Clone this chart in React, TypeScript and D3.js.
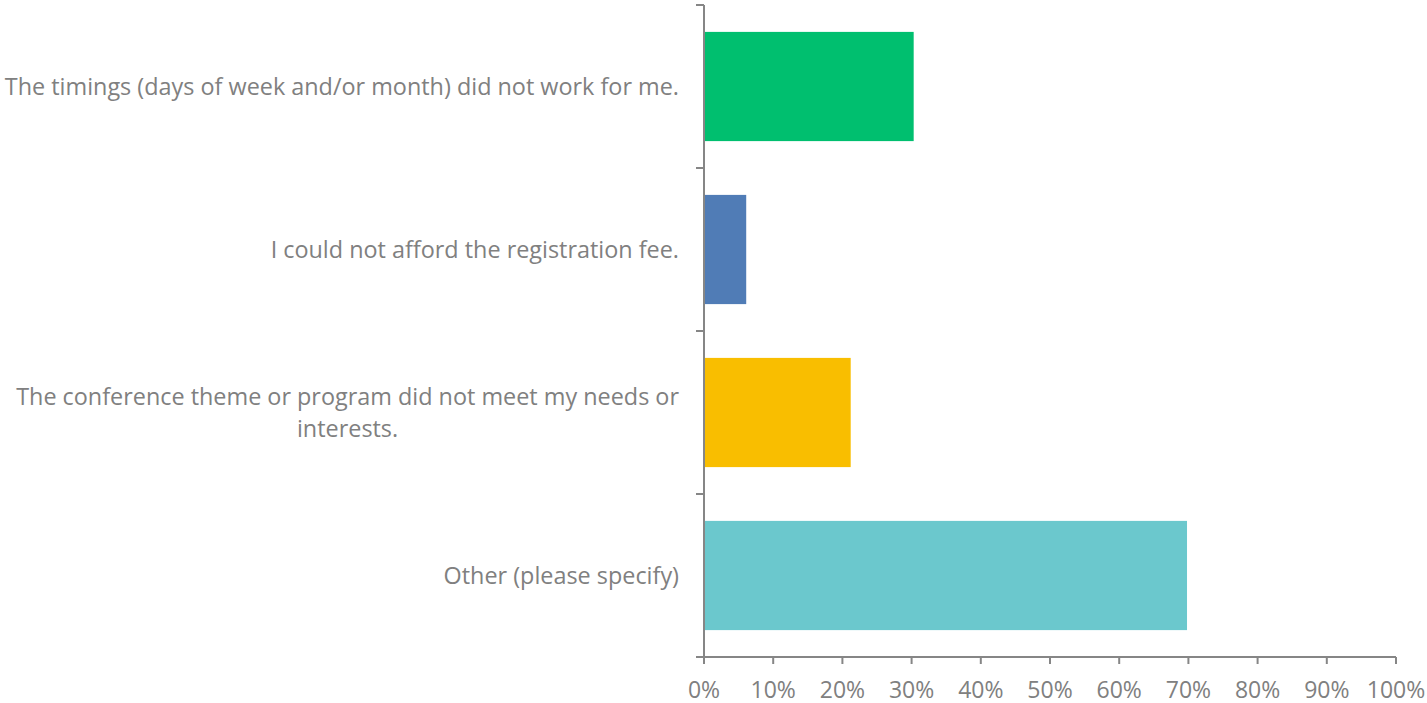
import React, { useEffect, useRef } from "react";
import * as d3 from "d3";

const categories: string[][] = [
  ["The timings (days of week and/or month) did not work for me."],
  ["I could not afford the registration fee."],
  ["The conference theme or program did not meet my needs or", "interests."],
  ["Other (please specify)"],
];
const values = [0.303, 0.061, 0.212, 0.698];
const colors = ["#00BF6F", "#507CB6", "#F9BE00", "#6BC8CD"];
const xTicks = [0, 0.1, 0.2, 0.3, 0.4, 0.5, 0.6, 0.7, 0.8, 0.9, 1.0];

const W = 1427;
const H = 703;
const FONT = "'Open Sans', 'Liberation Sans', sans-serif";
const TEXT = "#808080";
const AXIS = "#868686";

export default function App() {
  const ref = useRef<SVGSVGElement>(null);
  useEffect(() => {
    const svg = d3.select(ref.current);
    svg.selectAll("*").remove();
    const left = 704, right = 1396, top = 5, bottom = 657;
    const x = d3.scaleLinear().domain([0, 1]).range([left, right]);
    const y = d3.scaleBand<number>().domain(d3.range(categories.length)).range([top, bottom]).paddingInner(0.33).paddingOuter(0.165);

    // bars
    svg.append("g").selectAll("rect").data(values).join("rect")
      .attr("x", x(0))
      .attr("y", (_, i) => y(i)!)
      .attr("width", d => x(d) - x(0))
      .attr("height", y.bandwidth())
      .attr("fill", (_, i) => colors[i]);

    // y axis
    const step = (bottom - top) / categories.length;
    const g = svg.append("g").attr("stroke", AXIS).attr("stroke-width", 2).attr("fill", "none");
    g.append("line").attr("x1", left).attr("x2", left).attr("y1", top).attr("y2", bottom);
    d3.range(categories.length + 1).forEach(i => {
      const yy = top + i * step;
      g.append("line").attr("x1", left - 8).attr("x2", left).attr("y1", yy).attr("y2", yy);
    });
    // x axis
    g.append("line").attr("x1", left - 8).attr("x2", right).attr("y1", bottom).attr("y2", bottom);
    xTicks.forEach(t => {
      g.append("line").attr("x1", x(t)).attr("x2", x(t)).attr("y1", bottom).attr("y2", bottom + 7);
    });

    svg.append("g").selectAll("text").data(xTicks).join("text")
      .attr("x", d => x(d))
      .attr("y", 698)
      .attr("text-anchor", "middle")
      .attr("font-family", FONT)
      .attr("font-size", 23)
      .attr("fill", TEXT)
      .text(d => `${Math.round(d * 100)}%`);

    // category labels
    const labelRight = 679;
    categories.forEach((lines, i) => {
      const cy = y(i)! + y.bandwidth() / 2;
      const lh = 32;
      const t = svg.append("text")
        .attr("font-family", FONT)
        .attr("font-size", 23.4)
        .attr("fill", TEXT)
        .attr("text-anchor", "middle");
      const spans = lines.map((l, j) =>
        t.append("tspan").attr("y", cy + (j - (lines.length - 1) / 2) * lh).attr("dy", "0.35em").text(l)
      );
      const widths = spans.map(s => (s.node() as SVGTextContentElement).getComputedTextLength());
      const maxW = Math.max(...widths);
      spans.forEach(s => s.attr("x", labelRight - maxW / 2));
    });
  }, []);
  return <svg ref={ref} width={W} height={H} style={{ display: "block", position: "absolute", left: 0, top: 0 }} />;
}
